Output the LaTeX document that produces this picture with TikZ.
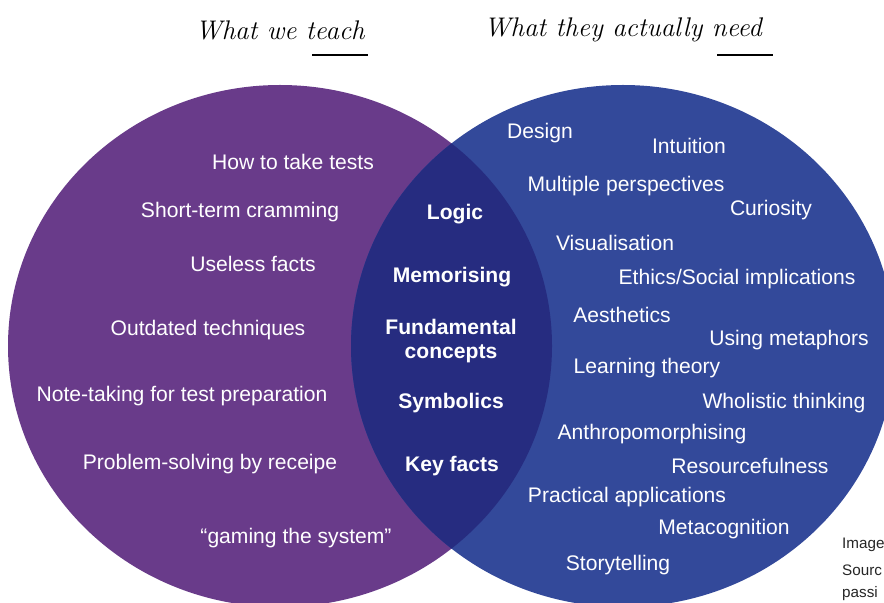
\documentclass[tikz,border=0pt]{standalone}
\usepackage{fontspec}
\usepackage{tikz}
\usetikzlibrary{positioning}
\newfontfamily\labelfont{Liberation Sans}
\definecolor{teachcol}{HTML}{693B8A}
\definecolor{needcol}{HTML}{33499A}
\definecolor{bothcol}{HTML}{262C80}
\tikzset{item/.style={text=white, font=\labelfont\fontsize{18}{20}\selectfont, inner sep=0pt},
         core/.style={item, font=\labelfont\bfseries\fontsize{18}{20.5}\selectfont, align=center},
         heading/.style={font=\itshape\fontsize{23}{26}\selectfont, inner sep=0pt},
         credit/.style={text=black!85, font=\labelfont\fontsize{13}{15}\selectfont, anchor=west, inner sep=0pt}}

\begin{document}
\begin{tikzpicture}[x=0.3mm, y=-0.3mm]

            \useasboundingbox (0,0) rectangle (884,603);
            \clip (0,0) rectangle (884,603);
            \fill[white] (0,0) rectangle (884,603);

            \fill[teachcol] (280,346) ellipse [x radius=272, y radius=261];
            \fill[needcol] (623,346) ellipse [x radius=272, y radius=261];
            \begin{scope}
            \clip (280,346) ellipse [x radius=272, y radius=261];
            \fill[bothcol] (623,346) ellipse [x radius=272, y radius=261];
            \end{scope}

            \node[heading] (T1) at (280,30) {What we teach};
            \node[heading] (T2) at (623,30) {What they actually need};
            \draw[line width=1.6pt] (312,55)--(368,55);
            \draw[line width=1.6pt] (717,55)--(773,55);

            % what we teach
            \node[item] (L1) at (293,162) {How to take tests};
            \node[item] (L2) at (240,212) {Short-term cramming};
            \node[item] (L3) at (253,264) {Useless facts};
            \node[item] (L4) at (208,330) {Outdated techniques};
            \node[item] (L5) at (182,396) {Note-taking for test preparation};
            \node[item] (L6) at (210,464) {Problem-solving by receipe};
            \node[item] (L7) at (296,538) {“gaming the system”};

            % both
            \node[core] (M1) at (455,214) {Logic};
            \node[core] (M2) at (452,277) {Memorising};
            \node[core] (M3) at (451,341) {Fundamental\\concepts};
            \node[core] (M4) at (451,403) {Symbolics};
            \node[core] (M5) at (452,466) {Key facts};

            % what they need
            \node[item] (R1) at (540,133) {Design};
            \node[item] (R2) at (689,146) {Intuition};
            \node[item] (R3) at (626,186) {Multiple perspectives};
            \node[item] (R4) at (771,210) {Curiosity};
            \node[item] (R5) at (615,243) {Visualisation};
            \node[item] (R6) at (737,279) {Ethics/Social implications};
            \node[item] (R7) at (622,315) {Aesthetics};
            \node[item] (R8) at (789,340) {Using metaphors};
            \node[item] (R9) at (647,368) {Learning theory};
            \node[item] (R10) at (784,403) {Wholistic thinking};
            \node[item] (R11) at (652,434) {Anthropomorphising};
            \node[item] (R12) at (750,466) {Resourcefulness};
            \node[item] (R13) at (627,497) {Practical applications};
            \node[item] (R14) at (724,529) {Metacognition};
            \node[item] (R15) at (618,565) {Storytelling};

            \node[credit] (C1) at (842,545) {Image};
            \node[credit] (C2) at (842,570) {Sourc};
            \node[credit] (C3) at (842,594) {passi};
            \end{tikzpicture}
\end{document}
